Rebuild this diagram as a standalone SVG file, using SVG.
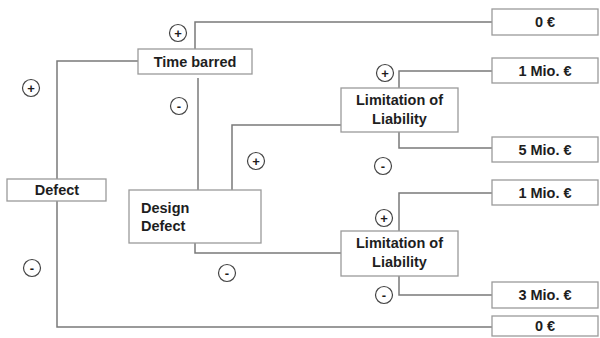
<svg xmlns="http://www.w3.org/2000/svg" width="600" height="338" viewBox="0 0 600 338">
<style>
.box{fill:#fff;stroke:#9a9a9a;stroke-width:1.3}
.ln{fill:none;stroke:#7a7a7a;stroke-width:1.5}
.t{font-family:"Liberation Sans",Arial,sans-serif;font-weight:bold;font-size:14.5px;fill:#1e1e1e}
.c{fill:#fff;stroke:#444;stroke-width:1.2}
.s{font-family:"Liberation Sans",Arial,sans-serif;font-weight:bold;font-size:13px;fill:#1e1e1e;text-anchor:middle}
</style>
<rect width="600" height="338" fill="#fff"/>
<g id="connectors">
<polyline class="ln" points="138,61 57,61 57,327 492,327"/>
<polyline class="ln" points="195,49 195,22 492,22"/>
<polyline class="ln" points="198,78 198,190"/>
<polyline class="ln" points="232,190 232,125 341,125"/>
<polyline class="ln" points="195,243 195,253 341,253"/>
<polyline class="ln" points="399,88 399,71 492,71"/>
<polyline class="ln" points="399,132 399,148 492,148"/>
<polyline class="ln" points="399,231 399,193 492,193"/>
<polyline class="ln" points="399,276 399,295 492,295"/>
</g>
<g id="signs">
<circle class="c" cx="178" cy="33" r="8.5"/><text class="s" x="178" y="37.7">+</text>
<circle class="c" cx="31" cy="88" r="8.5"/><text class="s" x="31" y="92.7">+</text>
<circle class="c" cx="179" cy="106" r="8.5"/><text class="s" x="179" y="110.7">-</text>
<circle class="c" cx="256" cy="161" r="8.5"/><text class="s" x="256" y="165.7">+</text>
<circle class="c" cx="385" cy="73" r="8.5"/><text class="s" x="385" y="77.7">+</text>
<circle class="c" cx="383" cy="166" r="8.5"/><text class="s" x="383" y="170.7">-</text>
<circle class="c" cx="32" cy="268" r="8.5"/><text class="s" x="32" y="272.7">-</text>
<circle class="c" cx="227" cy="273" r="8.5"/><text class="s" x="227" y="277.7">-</text>
<circle class="c" cx="384" cy="218" r="8.5"/><text class="s" x="384" y="222.7">+</text>
<circle class="c" cx="384" cy="295" r="8.5"/><text class="s" x="384" y="299.7">-</text>
</g>
<g id="defect"><rect class="box" x="7" y="179" width="99" height="22"/><text class="t" x="57" y="195" text-anchor="middle">Defect</text></g>
<g id="time-barred"><rect class="box" x="138" y="49" width="114" height="25"/><text class="t" x="195" y="67" text-anchor="middle">Time barred</text></g>
<g id="design-defect"><rect class="box" x="129" y="190" width="132" height="53"/><text class="t" x="141" y="213">Design</text><text class="t" x="141" y="231">Defect</text></g>
<g id="limitation-1"><rect class="box" x="341" y="88" width="117" height="44"/><text class="t" x="399.5" y="105" text-anchor="middle">Limitation of</text><text class="t" x="399.5" y="124" text-anchor="middle">Liability</text></g>
<g id="limitation-2"><rect class="box" x="341" y="231" width="117" height="45"/><text class="t" x="399.5" y="248" text-anchor="middle">Limitation of</text><text class="t" x="399.5" y="267" text-anchor="middle">Liability</text></g>
<g id="r-top0"><rect class="box" x="492" y="9" width="106" height="26"/><text class="t" x="545" y="27" text-anchor="middle">0 €</text></g>
<g id="r-1mio-a"><rect class="box" x="492" y="58" width="106" height="25"/><text class="t" x="545" y="75.5" text-anchor="middle">1 Mio. €</text></g>
<g id="r-5mio"><rect class="box" x="492" y="137" width="106" height="25"/><text class="t" x="545" y="154.5" text-anchor="middle">5 Mio. €</text></g>
<g id="r-1mio-b"><rect class="box" x="492" y="180" width="106" height="25"/><text class="t" x="545" y="197.5" text-anchor="middle">1 Mio. €</text></g>
<g id="r-3mio"><rect class="box" x="492" y="282" width="106" height="26"/><text class="t" x="545" y="300" text-anchor="middle">3 Mio. €</text></g>
<g id="r-bottom0"><rect class="box" x="492" y="316" width="106" height="20"/><text class="t" x="545" y="331" text-anchor="middle">0 €</text></g>
</svg>
